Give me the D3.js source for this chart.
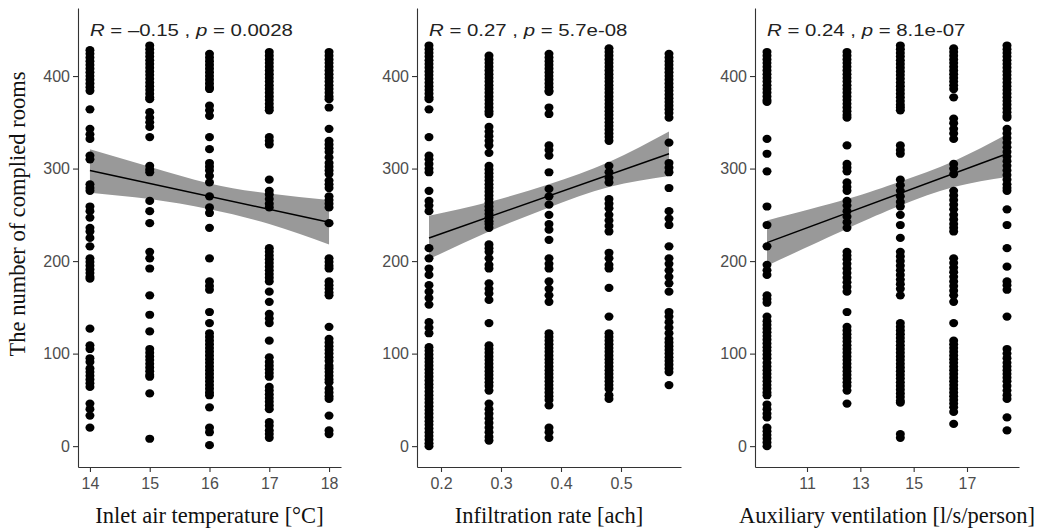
<!DOCTYPE html>
<html>
<head>
<meta charset="utf-8">
<script src="https://cdn.jsdelivr.net/npm/d3@7"></script>
<style>
  body { margin: 0; background: #fff; }
  svg { display: block; }
</style>
</head>
<body>
<svg id="chart" width="1049" height="531"></svg>
<script>
// ---- shared y axis ----
const yTicks = [0, 100, 200, 300, 400];
const yLabel = "The number of complied rooms";

// ---- panel 1: inlet air temperature ----
const tempLevels = [14, 15, 16, 17, 18];
const tempTicks = [14, 15, 16, 17, 18];
const tempRooms = [
  [428,424,420,416,412,408,404,400,396,392,388,384,364,343,337,332,314,310,283,279,276,259,254,247,236,232,225,216,203,199,195,191,187,183,181,127,109,105,95,91,84,80,76,72,68,64,46,40,33,20],
  [433,429,425,421,417,413,409,405,401,397,393,389,385,381,377,375,361,355,350,345,334,303,299,296,265,254,241,210,203,192,163,142,124,105,101,97,93,89,85,81,77,75,57,8],
  [424,420,416,412,408,404,400,396,392,388,386,368,363,357,334,321,306,302,298,292,285,270,258,252,236,203,178,173,169,145,133,122,118,114,110,106,102,98,94,90,86,82,78,74,70,66,62,58,55,42,20,15,1],
  [426,422,418,414,410,406,402,398,394,390,386,382,378,374,370,366,363,334,330,326,288,276,272,267,262,258,214,210,206,202,198,194,190,186,182,178,167,156,143,138,133,114,96,91,87,83,79,75,64,60,56,52,48,44,40,26,22,17,13,9],
  [426,422,418,414,410,406,402,398,394,390,386,382,378,375,366,343,330,326,322,318,312,306,302,298,294,287,283,279,270,266,262,258,241,203,199,195,192,178,174,170,166,163,129,116,112,108,104,100,96,92,87,84,80,76,72,69,62,58,54,51,33,17,13]
];
const tempFit = [298, 284, 270, 256, 242];
const tempLower = [274, 267, 256, 240, 218];
const tempUpper = [321, 302, 284, 273, 266];

// ---- panel 2: infiltration rate ----
const infilLevels = [0.18, 0.28, 0.38, 0.48, 0.58];
const infilTicks = [0.2, 0.3, 0.4, 0.5];
const infilRooms = [
  [433,429,425,421,417,413,409,405,401,397,393,389,385,381,377,375,364,334,314,310,305,300,296,276,265,260,254,214,203,192,185,174,167,160,153,134,128,122,107,103,99,95,91,87,83,79,75,71,67,63,59,55,51,47,43,39,35,31,27,23,19,15,11,7,3,0],
  [422,418,414,410,406,402,398,394,390,386,382,378,374,370,366,362,359,345,340,335,330,325,317,303,299,295,291,287,283,279,275,271,267,263,259,255,251,247,243,240,236,218,214,210,203,196,192,176,170,165,158,133,109,105,101,97,93,89,85,81,77,73,69,65,60,46,40,35,30,25,20,15,10,6],
  [424,420,416,412,408,404,400,396,392,388,384,383,366,359,325,320,314,296,278,270,261,250,240,234,223,203,197,192,178,170,163,156,122,118,114,110,106,102,98,94,90,86,82,78,74,70,66,62,58,54,50,44,20,15,9],
  [430,426,422,418,414,410,406,402,398,394,390,386,382,378,374,370,366,362,358,354,350,346,342,338,334,330,303,296,290,285,267,262,257,250,244,238,232,209,203,196,192,171,140,122,118,114,110,106,102,98,94,90,86,82,78,74,70,66,62,55,51],
  [424,420,416,412,408,404,400,396,392,388,384,380,376,372,368,364,360,355,328,306,301,296,279,254,246,239,216,203,197,190,183,176,167,145,140,134,128,122,116,112,108,104,100,96,92,88,84,80,66]
];
const infilFit = [225, 247.75, 270.5, 293.25, 316];
const infilLower = [202, 232, 258, 280, 292];
const infilUpper = [249, 264, 283, 307, 340];

// ---- panel 3: auxiliary ventilation ----
const ventLevels = [9.5, 12.5, 14.5, 16.5, 18.5];
const ventTicks = [11, 13, 15, 17];
const ventRooms = [
  [426,422,418,414,410,406,402,398,394,390,386,382,378,374,372,332,316,297,259,239,216,196,190,185,163,159,155,140,135,131,127,123,119,115,111,107,103,99,95,90,86,82,78,74,70,66,62,58,55,45,40,35,31,20,16,12,8,4,0],
  [426,422,418,414,410,406,402,398,394,390,386,382,378,374,370,366,362,358,355,325,305,301,297,285,280,276,265,260,254,248,242,236,210,206,202,197,192,187,182,177,172,167,145,129,125,121,117,113,109,105,101,97,93,89,85,81,77,73,69,65,60,46],
  [433,429,425,421,417,413,409,405,401,397,393,389,385,381,377,373,369,366,363,325,320,316,288,282,276,270,264,259,250,239,225,210,205,200,195,190,185,180,175,170,163,133,129,125,121,117,113,109,105,101,97,93,89,85,81,77,73,69,65,61,57,53,49,47,13,9],
  [430,426,422,418,414,410,406,402,398,394,390,386,377,354,349,343,338,332,305,300,294,276,271,266,261,256,250,245,240,236,232,203,198,193,188,183,178,173,168,163,156,133,114,110,106,102,98,94,90,86,82,78,74,70,66,62,58,54,50,46,42,37,24],
  [433,429,425,421,417,413,409,405,401,397,393,389,385,381,377,373,369,365,361,357,355,343,338,333,328,323,318,313,308,303,298,293,288,283,279,276,256,239,214,194,178,174,169,140,105,100,95,90,86,82,78,74,70,65,60,55,51,31,17]
];
const ventFit = [220, 250, 272, 294, 316];
const ventLower = [195, 235, 260, 280, 291];
const ventUpper = [244, 267, 286, 308, 337];

// ---- correlation labels ----
const corrR = ["\u20130.15", "0.27", "0.24"];
const corrP = ["0.0028", "5.7e-08", "8.1e-07"];
const xTitles = ["Inlet air temperature [\u00B0C]", "Infiltration rate [ach]", "Auxiliary ventilation [l/s/person]"];

// ---- layout ----
const svg = d3.select("#chart");
const plotTop = 8, plotBottom = 467;
const sansFont = "'Liberation Sans', Arial, sans-serif";
const serifFont = "'Liberation Serif', 'Times New Roman', serif";

const y = d3.scaleLinear().domain([-22.55, 473.55]).range([plotBottom, plotTop]);

const panels = [
  { levels: tempLevels, rooms: tempRooms, ticks: tempTicks, fmt: d3.format("d"),
    domain: [13.8, 18.2], range: [78, 341], fit: tempFit, lower: tempLower, upper: tempUpper },
  { levels: infilLevels, rooms: infilRooms, ticks: infilTicks, fmt: d3.format(".1f"),
    domain: [0.16, 0.60], range: [417, 681], fit: infilFit, lower: infilLower, upper: infilUpper },
  { levels: ventLevels, rooms: ventRooms, ticks: ventTicks, fmt: d3.format("d"),
    domain: [9.05, 18.95], range: [755, 1019], fit: ventFit, lower: ventLower, upper: ventUpper }
];

panels.forEach((p, i) => {
  const x = d3.scaleLinear().domain(p.domain).range(p.range);
  const g = svg.append("g");

  // confidence band of the linear fit
  const band = p.levels.map((lv, k) => ({ x: lv, lo: p.lower[k], hi: p.upper[k] }));
  g.append("path")
    .datum(band)
    .attr("fill", "#999999")
    .attr("d", d3.area().x(d => x(d.x)).y0(d => y(d.lo)).y1(d => y(d.hi)).curve(d3.curveNatural));

  // scatter points
  const pts = [];
  p.levels.forEach((lv, k) => p.rooms[k].forEach(v => pts.push({ x: lv, v })));
  g.append("g").selectAll("ellipse")
    .data(pts)
    .join("ellipse")
    .attr("cx", d => x(d.x))
    .attr("cy", d => y(d.v))
    .attr("rx", 4.5)
    .attr("ry", 4.1)
    .attr("fill", "#000");

  // regression line
  const fitPts = [0, p.levels.length - 1].map(k => ({ x: p.levels[k], v: p.fit[k] }));
  g.append("path")
    .datum(fitPts)
    .attr("fill", "none")
    .attr("stroke", "#000")
    .attr("stroke-width", 1.5)
    .attr("d", d3.line().x(d => x(d.x)).y(d => y(d.v)));

  // axes
  const xAxis = g.append("g")
    .attr("transform", `translate(0,${plotBottom})`)
    .call(d3.axisBottom(x).tickValues(p.ticks).tickFormat(p.fmt).tickSize(5).tickSizeOuter(0).tickPadding(6));
  const yAxis = g.append("g")
    .attr("transform", `translate(${p.range[0]},0)`)
    .call(d3.axisLeft(y).tickValues(yTicks).tickSize(5).tickSizeOuter(0).tickPadding(3));

  [xAxis, yAxis].forEach(a => {
    a.select(".domain").attr("stroke", "#333").attr("stroke-width", 1.1);
    a.selectAll(".tick line").attr("stroke", "#333").attr("stroke-width", 1.1);
    a.selectAll(".tick text")
      .attr("fill", "#4D4D4D")
      .style("font-family", sansFont)
      .style("font-size", "16px");
  });

  // axis title
  g.append("text")
    .attr("x", (p.range[0] + p.range[1]) / 2)
    .attr("y", 523)
    .attr("text-anchor", "middle")
    .style("font-family", serifFont)
    .style("font-size", "22.5px")
    .attr("fill", "#111")
    .text(xTitles[i]);

  // correlation annotation (slightly widened face)
  const t = g.append("text")
    .attr("transform", `translate(${x(p.levels[0])},36) scale(1.2,1)`)
    .style("font-family", sansFont)
    .style("font-size", "17px")
    .attr("fill", "#222");
  t.append("tspan").style("font-style", "italic").text("R");
  t.append("tspan").text(` = ${corrR[i]} , `);
  t.append("tspan").style("font-style", "italic").text("p");
  t.append("tspan").text(` = ${corrP[i]}`);
});

// shared y title
svg.append("text")
  .attr("transform", "translate(25,214) rotate(-90)")
  .attr("text-anchor", "middle")
  .style("font-family", serifFont)
  .style("font-size", "22.5px")
  .attr("fill", "#111")
  .text(yLabel);
</script>
</body>
</html>
